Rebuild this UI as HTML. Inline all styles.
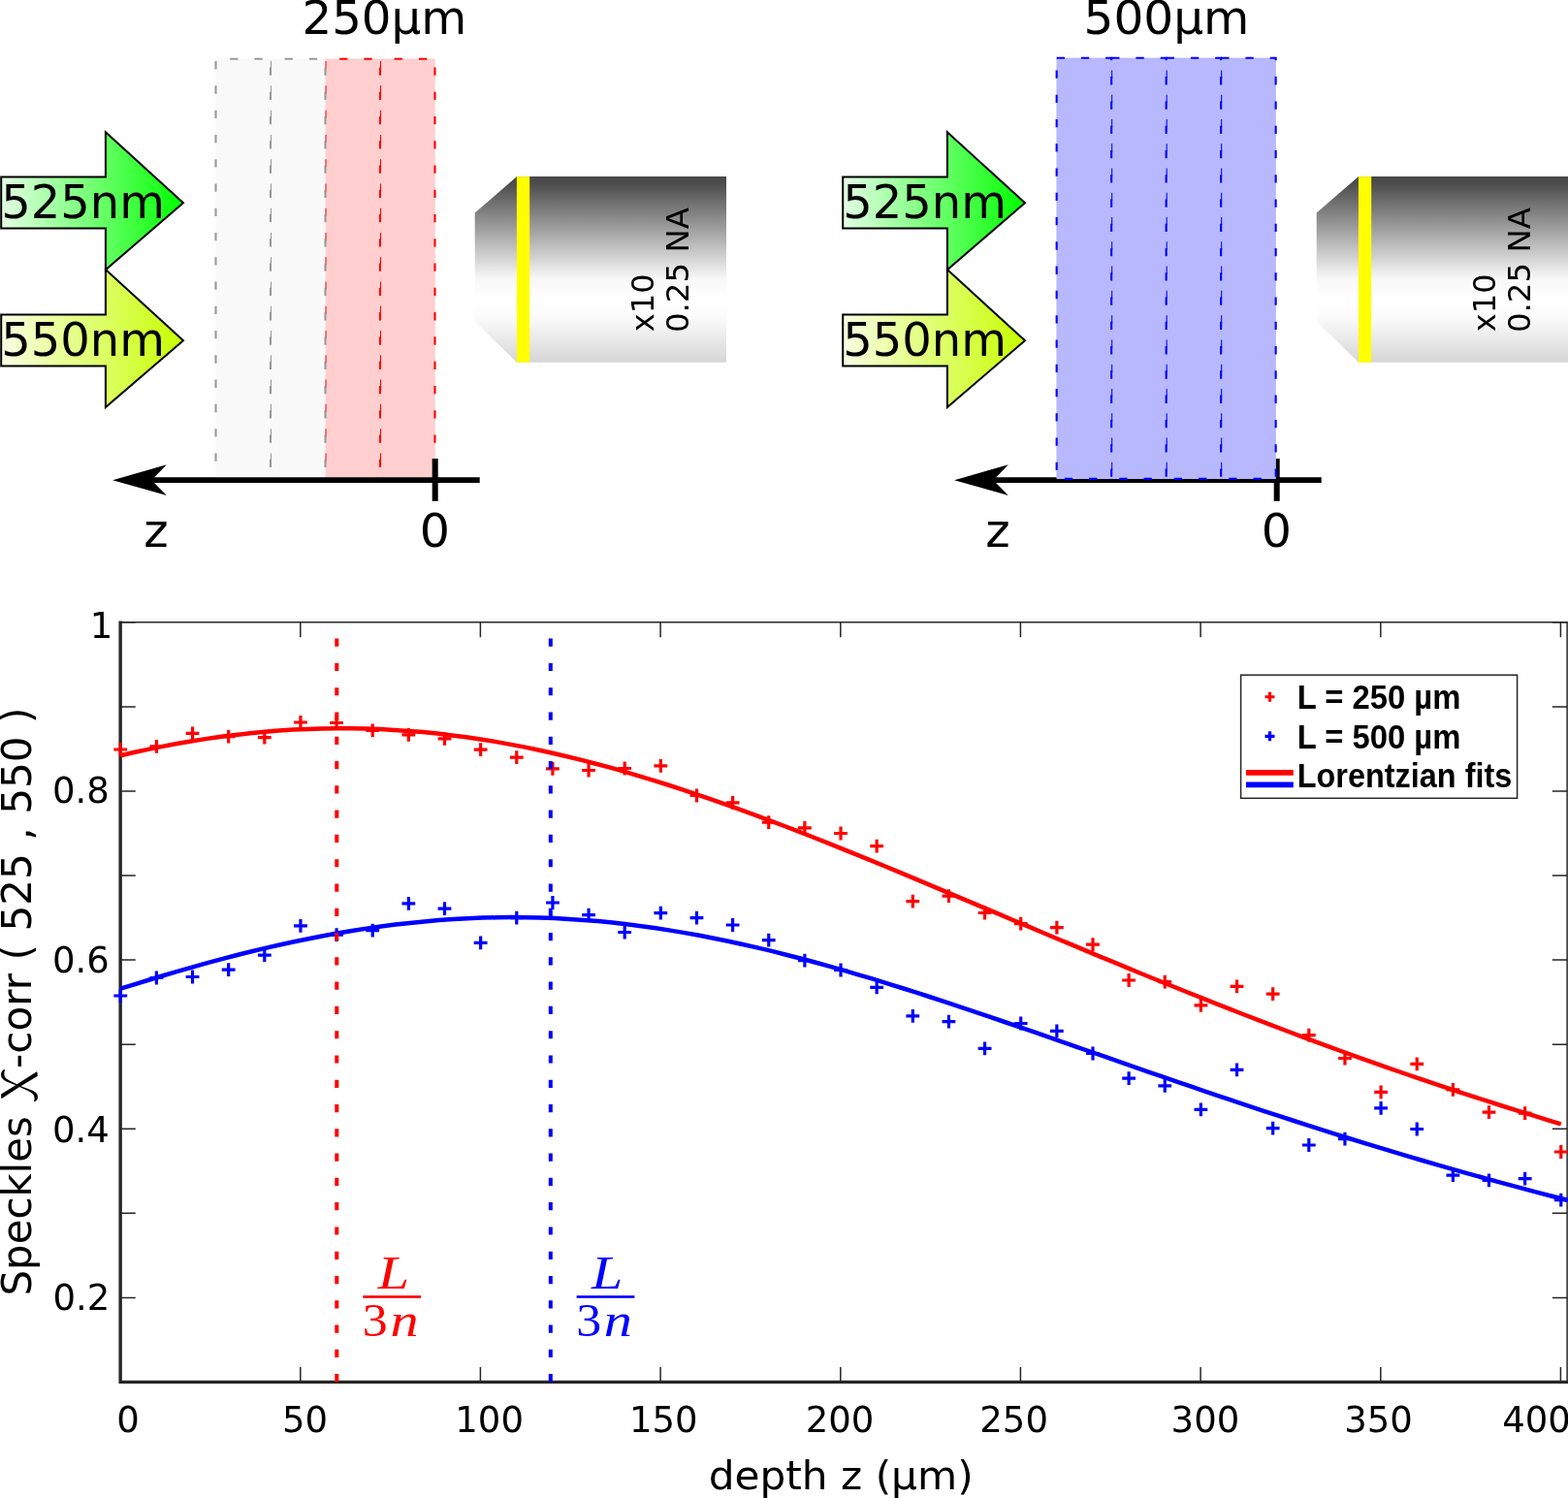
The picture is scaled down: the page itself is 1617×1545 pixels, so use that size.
<!DOCTYPE html>
<html lang="en"><head><meta charset="utf-8"><title>Speckle correlation vs depth</title>
<style>
html,body{margin:0;padding:0;background:#fff}
svg{display:block}
.dv{font-family:"DejaVu Sans","Liberation Sans",sans-serif;fill:#000}
.lb{font-family:"Liberation Sans","DejaVu Sans",sans-serif;font-weight:bold;fill:#000}
.ms{font-family:"Liberation Serif","DejaVu Serif",serif;font-style:italic}
.rm{font-family:"Liberation Serif","DejaVu Serif",serif}
.nt{font-family:"Noto Serif CJK SC","DejaVu Serif","Liberation Serif",serif;fill:#000}
</style></head><body>
<svg width="1617" height="1545" viewBox="0 0 1617 1545">
<defs>
<linearGradient id="g525" x1="0" y1="0" x2="190" y2="0" gradientUnits="userSpaceOnUse"><stop offset="0" stop-color="#e6ffe6"/><stop offset="1" stop-color="#00ff00"/></linearGradient>
<linearGradient id="g550" x1="0" y1="0" x2="190" y2="0" gradientUnits="userSpaceOnUse"><stop offset="0" stop-color="#f9ffe5"/><stop offset="1" stop-color="#c6ff00"/></linearGradient>
<linearGradient id="gobj" x1="0" y1="181.7" x2="0" y2="373.6" gradientUnits="userSpaceOnUse"><stop offset="0" stop-color="#484848"/><stop offset="0.04" stop-color="#4d4d4d"/><stop offset="0.55" stop-color="#f8f8f8"/><stop offset="0.66" stop-color="#ffffff"/><stop offset="0.76" stop-color="#fbfbfb"/><stop offset="1" stop-color="#d6d6d6"/></linearGradient>
</defs>
<rect width="1617" height="1545" fill="#fff"/>
<text transform="translate(311.40,35.10) scale(1.0239,1)" font-size="47.2" class="dv">250µm</text>
<text transform="translate(1117.54,35.00) scale(1.0292,1)" font-size="47.2" class="dv">500µm</text>
<g transform="translate(0,0)">
<rect x="222.50" y="60.75" width="113.00" height="436.25" fill="#f9f9f9"/>
<rect x="335.50" y="60.75" width="113.00" height="436.25" fill="#ffcfcf"/>
<rect x="392.00" y="60.75" width="56.5" height="436.25" fill="#ffcfcf" stroke="#f00" stroke-width="2.1" stroke-dasharray="8.3 16.97" stroke-dashoffset="10.67"/>
<rect x="335.50" y="60.75" width="56.5" height="436.25" fill="#ffcfcf" stroke="#f00" stroke-width="2.1" stroke-dasharray="8.3 16.97" stroke-dashoffset="10.67"/>
<rect x="279.00" y="60.75" width="56.5" height="436.25" fill="#f9f9f9" stroke="#999" stroke-width="2.1" stroke-dasharray="8.3 16.97" stroke-dashoffset="10.67"/>
<rect x="222.50" y="60.75" width="56.5" height="436.25" fill="#f9f9f9" stroke="#999" stroke-width="2.1" stroke-dasharray="8.3 16.97" stroke-dashoffset="10.67"/>
<path d="M150 495.2H494.7" stroke="#000" stroke-width="5.8" fill="none"/>
<path d="M116.1 495.2L171.8 479.3L156.3 495.2L171.8 510.9Z" fill="#000"/>
<path d="M448.7 473V516.8" stroke="#000" stroke-width="6" fill="none"/>
<path d="M1.2 182.55H108.9V136.20L189 209.35L108.9 278.20V235.55H1.2Z" fill="url(#g525)" stroke="#000" stroke-width="2" stroke-linejoin="miter"/>
<text transform="translate(1.18,225.35) scale(1.0180,1)" font-size="47.2" class="dv">525nm</text>
<path d="M1.2 324.45H108.9V278.10L189 351.25L108.9 420.10V377.45H1.2Z" fill="url(#g550)" stroke="#000" stroke-width="2" stroke-linejoin="miter"/>
<text transform="translate(1.18,366.60) scale(1.0180,1)" font-size="47.2" class="dv">550nm</text>
<path d="M489.7 219.6L533 182.1H749V373.8H533L489.7 331.2Z" fill="url(#gobj)"/>
<rect x="532.9" y="182.1" width="13.3" height="191.7" fill="#ffff00"/>
<text transform="translate(673.70,342.26) rotate(-90) scale(1.0249,1)" font-size="31.3" class="dv">x10</text>
<text transform="translate(710.30,343.11) rotate(-90) scale(1.0373,1)" font-size="31.3" class="dv">0.25 NA</text>
<text transform="translate(148.24,563.80) scale(1.0256,1)" font-size="47.2" class="dv">z</text>
<text transform="translate(432.81,563.80) scale(1.0404,1)" font-size="47.2" class="dv">0</text>
</g>
<g transform="translate(868,0)">
<path d="M150 495.2H494.7" stroke="#000" stroke-width="5.8" fill="none"/>
<path d="M116.1 495.2L171.8 479.3L156.3 495.2L171.8 510.9Z" fill="#000"/>
<path d="M448.7 473V516.8" stroke="#000" stroke-width="6" fill="none"/>
<rect x="221.65" y="59.8" width="226.00" height="434.1" fill="#b8b8ff"/>
<rect x="391.15" y="59.8" width="56.5" height="434.1" fill="#b8b8ff" stroke="#00f" stroke-width="2.1" stroke-dasharray="8.3 16.97" stroke-dashoffset="0"/>
<rect x="334.65" y="59.8" width="56.5" height="434.1" fill="#b8b8ff" stroke="#00f" stroke-width="2.1" stroke-dasharray="8.3 16.97" stroke-dashoffset="0"/>
<rect x="278.15" y="59.8" width="56.5" height="434.1" fill="#b8b8ff" stroke="#00f" stroke-width="2.1" stroke-dasharray="8.3 16.97" stroke-dashoffset="0"/>
<rect x="221.65" y="59.8" width="56.5" height="434.1" fill="#b8b8ff" stroke="#00f" stroke-width="2.1" stroke-dasharray="8.3 16.97" stroke-dashoffset="0"/>
<path d="M1.2 182.55H108.9V136.20L189 209.35L108.9 278.20V235.55H1.2Z" fill="url(#g525)" stroke="#000" stroke-width="2" stroke-linejoin="miter"/>
<text transform="translate(1.18,225.35) scale(1.0180,1)" font-size="47.2" class="dv">525nm</text>
<path d="M1.2 324.45H108.9V278.10L189 351.25L108.9 420.10V377.45H1.2Z" fill="url(#g550)" stroke="#000" stroke-width="2" stroke-linejoin="miter"/>
<text transform="translate(1.18,366.60) scale(1.0180,1)" font-size="47.2" class="dv">550nm</text>
<path d="M489.7 219.6L533 182.1H749V373.8H533L489.7 331.2Z" fill="url(#gobj)"/>
<rect x="532.9" y="182.1" width="13.3" height="191.7" fill="#ffff00"/>
<text transform="translate(673.70,342.26) rotate(-90) scale(1.0249,1)" font-size="31.3" class="dv">x10</text>
<text transform="translate(710.30,343.11) rotate(-90) scale(1.0373,1)" font-size="31.3" class="dv">0.25 NA</text>
<text transform="translate(148.24,563.80) scale(1.0256,1)" font-size="47.2" class="dv">z</text>
<text transform="translate(432.81,563.80) scale(1.0404,1)" font-size="47.2" class="dv">0</text>
</g>
<path d="M124.26 641.8H1617" stroke="#262626" stroke-width="1.4" fill="none"/>
<path d="M1616.2 641.1V1425.4" stroke="#464646" stroke-width="1.9" fill="none"/>
<path d="M124.1 1425.4v-15.5M124.1 641.7v15.5M309.8 1425.4v-15.5M309.8 641.7v15.5M495.4 1425.4v-15.5M495.4 641.7v15.5M681.1 1425.4v-15.5M681.1 641.7v15.5M866.8 1425.4v-15.5M866.8 641.7v15.5M1052.4 1425.4v-15.5M1052.4 641.7v15.5M1238.1 1425.4v-15.5M1238.1 641.7v15.5M1423.8 1425.4v-15.5M1423.8 641.7v15.5M1609.4 1425.4v-15.5M1609.4 641.7v15.5M124.26 1425.4h15.5M1616.3 1425.4h-15.5M124.26 1338.4h15.5M1616.3 1338.4h-15.5M124.26 1251.3h15.5M1616.3 1251.3h-15.5M124.26 1164.2h15.5M1616.3 1164.2h-15.5M124.26 1077.2h15.5M1616.3 1077.2h-15.5M124.26 990.1h15.5M1616.3 990.1h-15.5M124.26 903.0h15.5M1616.3 903.0h-15.5M124.26 815.9h15.5M1616.3 815.9h-15.5M124.26 728.9h15.5M1616.3 728.9h-15.5M124.26 641.8h15.5M1616.3 641.8h-15.5" stroke="#262626" stroke-width="1.5" fill="none"/>
<path d="M124.15 640.5V1425.4H1617.3" stroke="#262626" stroke-width="3.4" fill="none" stroke-linejoin="miter"/>
<path d="M117.36 773.0h13.8M124.26 766.1v13.8M154.50 769.8h13.8M161.40 762.9v13.8M191.64 756.4h13.8M198.54 749.5v13.8M228.77 759.6h13.8M235.67 752.7v13.8M265.91 760.6h13.8M272.81 753.7v13.8M303.05 745.0h13.8M309.95 738.1v13.8M340.19 745.5h13.8M347.09 738.6v13.8M377.33 753.4h13.8M384.23 746.5v13.8M414.46 757.9h13.8M421.36 751.0v13.8M451.60 761.8h13.8M458.50 754.9v13.8M488.74 773.1h13.8M495.64 766.2v13.8M525.88 781.1h13.8M532.78 774.2v13.8M563.02 792.8h13.8M569.92 785.9v13.8M600.15 794.5h13.8M607.05 787.6v13.8M637.29 792.5h13.8M644.19 785.6v13.8M674.43 789.8h13.8M681.33 782.9v13.8M711.57 820.5h13.8M718.47 813.6v13.8M748.71 827.9h13.8M755.61 821.0v13.8M785.84 848.2h13.8M792.74 841.3v13.8M822.98 853.9h13.8M829.88 847.0v13.8M860.12 859.5h13.8M867.02 852.6v13.8M897.26 872.7h13.8M904.16 865.8v13.8M934.40 929.6h13.8M941.30 922.7v13.8M971.53 924.2h13.8M978.43 917.3v13.8M1008.67 941.5h13.8M1015.57 934.6v13.8M1045.81 952.6h13.8M1052.71 945.7v13.8M1082.95 956.6h13.8M1089.85 949.7v13.8M1120.09 974.2h13.8M1126.99 967.3v13.8M1157.22 1011.0h13.8M1164.12 1004.1v13.8M1194.36 1012.7h13.8M1201.26 1005.8v13.8M1231.50 1036.8h13.8M1238.40 1029.9v13.8M1268.64 1017.3h13.8M1275.54 1010.4v13.8M1305.78 1025.2h13.8M1312.68 1018.3v13.8M1342.91 1067.7h13.8M1349.81 1060.8v13.8M1380.05 1091.5h13.8M1386.95 1084.6v13.8M1417.19 1126.4h13.8M1424.09 1119.5v13.8M1454.33 1097.4h13.8M1461.23 1090.5v13.8M1491.47 1123.9h13.8M1498.37 1117.0v13.8M1528.60 1147.2h13.8M1535.50 1140.3v13.8M1565.74 1148.1h13.8M1572.64 1141.2v13.8M1602.88 1188.0h13.8M1609.78 1181.1v13.8" stroke="#f00" stroke-width="3.2" fill="none"/>
<path d="M117.36 1027.0h13.8M124.26 1020.1v13.8M154.50 1008.5h13.8M161.40 1001.6v13.8M191.64 1007.5h13.8M198.54 1000.6v13.8M228.77 1000.1h13.8M235.67 993.2v13.8M265.91 985.2h13.8M272.81 978.3v13.8M303.05 954.8h13.8M309.95 947.9v13.8M340.19 964.2h13.8M347.09 957.3v13.8M377.33 959.7h13.8M384.23 952.8v13.8M414.46 931.8h13.8M421.36 924.9v13.8M451.60 937.2h13.8M458.50 930.3v13.8M488.74 972.4h13.8M495.64 965.5v13.8M525.88 946.6h13.8M532.78 939.7v13.8M563.02 931.0h13.8M569.92 924.1v13.8M600.15 943.7h13.8M607.05 936.8v13.8M637.29 961.5h13.8M644.19 954.6v13.8M674.43 941.7h13.8M681.33 934.8v13.8M711.57 946.6h13.8M718.47 939.7v13.8M748.71 954.0h13.8M755.61 947.1v13.8M785.84 969.6h13.8M792.74 962.7v13.8M822.98 990.7h13.8M829.88 983.8v13.8M860.12 1000.5h13.8M867.02 993.6v13.8M897.26 1018.4h13.8M904.16 1011.5v13.8M934.40 1047.9h13.8M941.30 1041.0v13.8M971.53 1053.6h13.8M978.43 1046.7v13.8M1008.67 1081.3h13.8M1015.57 1074.4v13.8M1045.81 1055.5h13.8M1052.71 1048.6v13.8M1082.95 1063.4h13.8M1089.85 1056.5v13.8M1120.09 1086.5h13.8M1126.99 1079.6v13.8M1157.22 1112.2h13.8M1164.12 1105.3v13.8M1194.36 1119.9h13.8M1201.26 1113.0v13.8M1231.50 1144.4h13.8M1238.40 1137.5v13.8M1268.64 1103.4h13.8M1275.54 1096.5v13.8M1305.78 1163.7h13.8M1312.68 1156.8v13.8M1342.91 1181.0h13.8M1349.81 1174.1v13.8M1380.05 1174.6h13.8M1386.95 1167.7v13.8M1417.19 1142.9h13.8M1424.09 1136.0v13.8M1454.33 1164.5h13.8M1461.23 1157.6v13.8M1491.47 1212.2h13.8M1498.37 1205.3v13.8M1528.60 1217.4h13.8M1535.50 1210.5v13.8M1565.74 1215.7h13.8M1572.64 1208.8v13.8M1602.88 1237.7h13.8M1609.78 1230.8v13.8" stroke="#00f" stroke-width="3.2" fill="none"/>
<polyline points="124.3,779.2 139.1,775.8 154.0,772.6 168.8,769.6 183.7,766.8 198.5,764.2 213.4,761.9 228.2,759.8 243.1,757.9 258.0,756.2 272.8,754.8 287.7,753.6 302.5,752.6 317.4,751.9 332.2,751.5 347.1,751.3 361.9,751.3 376.8,751.6 391.7,752.1 406.5,752.9 421.4,753.9 436.2,755.1 451.1,756.6 465.9,758.4 480.8,760.3 495.6,762.5 510.5,764.9 525.4,767.6 540.2,770.4 555.1,773.5 569.9,776.7 584.8,780.2 599.6,783.9 614.5,787.7 629.3,791.7 644.2,795.9 659.0,800.3 673.9,804.8 688.8,809.5 703.6,814.3 718.5,819.3 733.3,824.4 748.2,829.6 763.0,834.9 777.9,840.3 792.7,845.9 807.6,851.5 822.5,857.2 837.3,863.0 852.2,868.9 867.0,874.9 881.9,880.9 896.7,886.9 911.6,893.0 926.4,899.2 941.3,905.4 956.2,911.6 971.0,917.8 985.9,924.1 1000.7,930.3 1015.6,936.6 1030.4,942.9 1045.3,949.2 1060.1,955.4 1075.0,961.7 1089.8,968.0 1104.7,974.2 1119.6,980.4 1134.4,986.6 1149.3,992.7 1164.1,998.9 1179.0,1005.0 1193.8,1011.0 1208.7,1017.0 1223.5,1023.0 1238.4,1028.9 1253.3,1034.8 1268.1,1040.7 1283.0,1046.5 1297.8,1052.2 1312.7,1057.9 1327.5,1063.5 1342.4,1069.1 1357.2,1074.6 1372.1,1080.1 1387.0,1085.5 1401.8,1090.8 1416.7,1096.1 1431.5,1101.3 1446.4,1106.5 1461.2,1111.6 1476.1,1116.7 1490.9,1121.6 1505.8,1126.6 1520.6,1131.4 1535.5,1136.2 1550.4,1141.0 1565.2,1145.6 1580.1,1150.2 1594.9,1154.8 1609.8,1159.3" stroke="#f00" stroke-width="4.5" fill="none" stroke-linejoin="round"/>
<polyline points="124.3,1019.7 139.2,1015.1 154.1,1010.5 169.0,1006.0 183.9,1001.6 198.9,997.3 213.8,993.2 228.7,989.2 243.6,985.3 258.6,981.5 273.5,977.9 288.4,974.5 303.3,971.2 318.2,968.2 333.2,965.2 348.1,962.5 363.0,960.0 377.9,957.6 392.9,955.5 407.8,953.6 422.7,951.9 437.6,950.4 452.5,949.1 467.5,948.0 482.4,947.2 497.3,946.6 512.2,946.3 527.2,946.1 542.1,946.2 557.0,946.5 571.9,947.1 586.8,947.9 601.8,948.9 616.7,950.1 631.6,951.6 646.5,953.3 661.5,955.2 676.4,957.3 691.3,959.6 706.2,962.1 721.1,964.8 736.1,967.7 751.0,970.7 765.9,974.0 780.8,977.4 795.8,980.9 810.7,984.7 825.6,988.5 840.5,992.5 855.4,996.6 870.4,1000.9 885.3,1005.3 900.2,1009.7 915.1,1014.3 930.1,1019.0 945.0,1023.7 959.9,1028.5 974.8,1033.4 989.7,1038.3 1004.7,1043.3 1019.6,1048.4 1034.5,1053.5 1049.4,1058.6 1064.3,1063.7 1079.3,1068.9 1094.2,1074.1 1109.1,1079.3 1124.0,1084.5 1139.0,1089.7 1153.9,1094.9 1168.8,1100.1 1183.7,1105.3 1198.6,1110.4 1213.6,1115.6 1228.5,1120.7 1243.4,1125.8 1258.3,1130.8 1273.3,1135.8 1288.2,1140.8 1303.1,1145.8 1318.0,1150.7 1332.9,1155.5 1347.9,1160.3 1362.8,1165.1 1377.7,1169.8 1392.6,1174.5 1407.6,1179.1 1422.5,1183.6 1437.4,1188.2 1452.3,1192.6 1467.2,1197.0 1482.2,1201.3 1497.1,1205.6 1512.0,1209.8 1526.9,1214.0 1541.9,1218.1 1556.8,1222.2 1571.7,1226.2 1586.6,1230.1 1601.5,1234.0 1616.5,1237.8" stroke="#00f" stroke-width="4.5" fill="none" stroke-linejoin="round"/>
<path d="M347.3 658.6V1425.4" stroke="#f00" stroke-width="4" stroke-dasharray="8.2 17.083" fill="none"/>
<path d="M567.8 658.6V1425.4" stroke="#00f" stroke-width="4" stroke-dasharray="8.2 17.083" fill="none"/>
<text transform="translate(120.19,1477.00)" font-size="37" class="dv">0</text>
<text transform="translate(291.03,1477.00)" font-size="37" class="dv">50</text>
<text transform="translate(469.33,1477.00)" font-size="37" class="dv">100</text>
<text transform="translate(648.93,1477.00)" font-size="37" class="dv">150</text>
<text transform="translate(830.72,1477.00)" font-size="37" class="dv">200</text>
<text transform="translate(1010.32,1477.00)" font-size="37" class="dv">250</text>
<text transform="translate(1207.62,1477.00)" font-size="37" class="dv">300</text>
<text transform="translate(1386.22,1477.00)" font-size="37" class="dv">350</text>
<text transform="translate(1549.25,1477.00)" font-size="37" class="dv">400</text>
<text transform="translate(92.63,657.50)" font-size="37" class="dv">1</text>
<text transform="translate(53.99,828.30)" font-size="37" class="dv">0.8</text>
<text transform="translate(53.99,1003.20)" font-size="37" class="dv">0.6</text>
<text transform="translate(53.99,1177.50)" font-size="37" class="dv">0.4</text>
<text transform="translate(54.49,1350.60)" font-size="37" class="dv">0.2</text>
<text transform="translate(730.68,1535.50) scale(1.0254,1)" font-size="41.2" class="dv">depth z (µm)</text>
<text transform="translate(31.90,1336.42) rotate(-90) scale(0.9638,1)" font-size="43.4" class="dv">Speckles</text>
<text transform="translate(28.45,1102.65) rotate(-90) scale(-1.1719,1)" font-size="51.2" class="nt">χ</text>
<text transform="translate(31.90,1101.91) rotate(-90) scale(0.9717,1)" font-size="43.4" class="dv">-corr ( 525 , 550 )</text>
<g fill="#f00"><text transform="translate(389.63,1329.00) scale(1.1780,1)" font-size="49.3" class="ms" style="fill:#f00">L</text><rect x="374.3" y="1336.2" width="59.8" height="2.6"/><text transform="translate(373.84,1378.30) scale(1.0853,1)" font-size="47.8" class="rm" style="fill:#f00">3</text><text transform="translate(402.56,1378.10) scale(1.1810,1)" font-size="49.3" class="ms" style="fill:#f00">n</text></g>
<g fill="#00f"><text transform="translate(609.93,1329.00) scale(1.1780,1)" font-size="49.3" class="ms" style="fill:#00f">L</text><rect x="594.6" y="1336.2" width="59.8" height="2.6"/><text transform="translate(594.14,1378.30) scale(1.0853,1)" font-size="47.8" class="rm" style="fill:#00f">3</text><text transform="translate(622.86,1378.10) scale(1.1810,1)" font-size="49.3" class="ms" style="fill:#00f">n</text></g>
<rect x="1279.6" y="696.2" width="285.0" height="127.1" fill="#fff" stroke="#262626" stroke-width="1.5"/>
<path d="M1304.5 718.75h10M1309.5 713.75v10" stroke="#f00" stroke-width="3.2" fill="none"/>
<path d="M1304.5 759.35h10M1309.5 754.35v10" stroke="#00f" stroke-width="3.2" fill="none"/>
<path d="M1285 796.8H1333.8" stroke="#f00" stroke-width="5.8" fill="none"/>
<path d="M1285 809.3H1333.8" stroke="#00f" stroke-width="5.8" fill="none"/>
<text transform="translate(1337.69,731.20) scale(0.9563,1)" font-size="34.3" class="lb">L = 250 µm</text>
<text transform="translate(1337.69,771.50) scale(0.9563,1)" font-size="34.3" class="lb">L = 500 µm</text>
<text transform="translate(1337.71,811.95) scale(0.9457,1)" font-size="34.3" class="lb">Lorentzian fits</text>
</svg></body></html>
